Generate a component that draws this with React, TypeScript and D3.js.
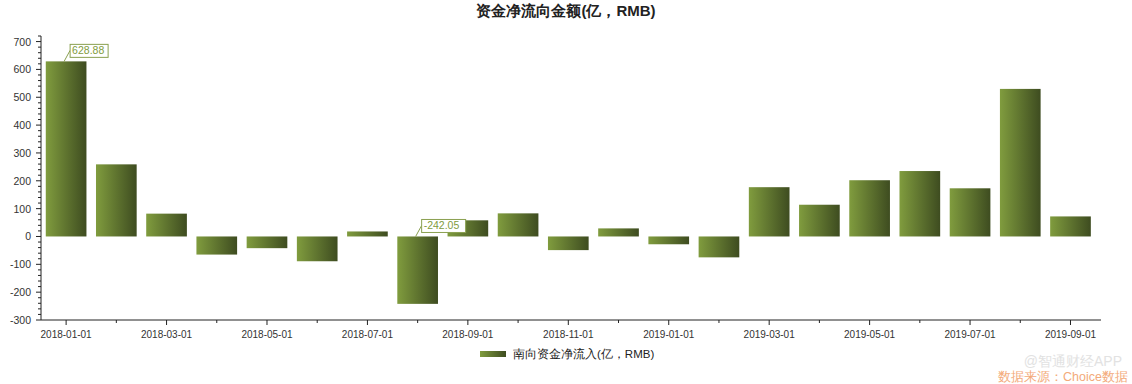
import React from "react";
import * as d3 from "d3";

const categories = [
  "2018-01-01","2018-02-01","2018-03-01","2018-04-01","2018-05-01","2018-06-01","2018-07-01",
  "2018-08-01","2018-09-01","2018-10-01","2018-11-01","2018-12-01","2019-01-01","2019-02-01",
  "2019-03-01","2019-04-01","2019-05-01","2019-06-01","2019-07-01","2019-08-01","2019-09-01",
];
const values = [628.88, 259, 82, -65, -42, -89, 18, -242.05, 58, 83, -49, 29, -28, -75, 177, 114, 202, 235, 173, 530, 72];
const yTicks = [-300, -200, -100, 0, 100, 200, 300, 400, 500, 600, 700];
const annotated = [0, 7];
const title = "资金净流向金额(亿，RMB)";
const seriesName = "南向资金净流入(亿，RMB)";

export default function App() {
  const W = 1132, H = 384;
  const left = 41, right = 1101, top = 36, bottom = 320;
  const x = d3.scaleBand<string>().domain(categories).range([left, 1095.6]).paddingInner(0.19).paddingOuter(0.095);
  const y = d3.scaleLinear().domain([-300, 720]).range([bottom, top]);
  const minor = d3.range(-300, 721, 20);
  const font = "Arial, 'Liberation Sans', sans-serif";
  const cx = (c: string) => (x(c) as number) + x.bandwidth() / 2;
  return (
    <svg width={W} height={H} style={{ position: "absolute", left: 0, top: 0, background: "#fff" }} fontFamily={font}>
      <defs>
        <linearGradient id="g" x1="0" x2="1" y1="0" y2="0">
          <stop offset="0%" stopColor="#809c3e" />
          <stop offset="100%" stopColor="#3e4c20" />
        </linearGradient>
      </defs>
      <text x={566} y={16} textAnchor="middle" fontSize={15} fontWeight="bold" fill="#222">{title}</text>
      {values.map((v, i) => (
        <rect key={i} x={x(categories[i])} width={x.bandwidth()} y={y(Math.max(0, v))}
          height={Math.abs(y(v) - y(0))} fill="url(#g)" />
      ))}
      {/* y axis */}
      <line x1={left} x2={left} y1={top} y2={bottom} stroke="#222" />
      {minor.map((t) => (
        <line key={t} x1={left} x2={left - (t % 100 === 0 ? 5 : 3)} y1={y(t)} y2={y(t)} stroke="#222" />
      ))}
      {yTicks.map((t) => (
        <text key={t} x={31} y={y(t) + 4} textAnchor="end" fontSize={10.5} fill="#333">{t}</text>
      ))}
      {/* x axis */}
      <line x1={left} x2={right} y1={bottom} y2={bottom} stroke="#222" />
      {categories.map((c, i) => (
        <line key={c} x1={cx(c)} x2={cx(c)} y1={bottom} y2={bottom + (i % 2 === 0 ? 5 : 3)} stroke="#222" />
      ))}
      {categories.map((c, i) => i % 2 === 0 ? (
        <text key={c} x={cx(c)} y={338} textAnchor="middle" fontSize={10} fill="#333">{c}</text>
      ) : null)}
      {/* annotations */}
      {annotated.map((i) => {
        const c = categories[i];
        const v = values[i];
        const bx = cx(c) - 2;
        const by = v >= 0 ? y(v) : y(0);
        const lx = bx + 6, ly = by - 11;
        const label = v.toFixed(2);
        const w = label.length * 6 + 2;
        return (
          <g key={i}>
            <line x1={bx} y1={by} x2={lx} y2={ly} stroke="#8aa050" />
            <rect x={lx} y={ly - 6} width={w} height={13} fill="#fff" stroke="#8aa050" />
            <text x={lx + 2} y={ly + 4} fontSize={10.5} fill="#7f9b3d">{label}</text>
          </g>
        );
      })}
      {/* legend */}
      <rect x={480} y={351} width={26} height={6} fill="url(#g)" />
      <text x={513} y={358} fontSize={11.5} fill="#222">{seriesName}</text>
      {/* watermark */}
      <text x={1122} y={366} textAnchor="end" fontSize={14} fill="#e2e2e2">@智通财经APP</text>
      <text x={1128} y={381} textAnchor="end" fontSize={12.5} fill="#f3aa7a">数据来源：Choice数据</text>
    </svg>
  );
}
